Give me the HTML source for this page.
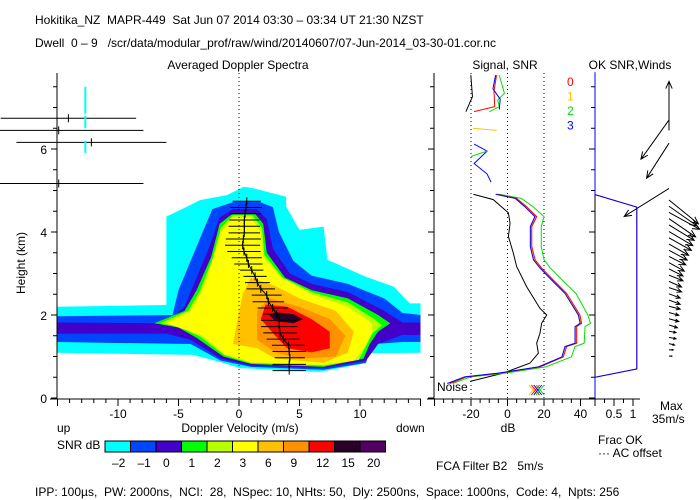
<!DOCTYPE html>
<html><head><meta charset="utf-8"><style>
body{margin:0;background:#fff}
svg{display:block;font-family:"Liberation Sans",sans-serif}
text{font-size:12px;white-space:pre}
</style></head><body>
<svg id="c" width="700" height="500" viewBox="0 0 700 500" xmlns="http://www.w3.org/2000/svg">
<text x="35" y="24" font-size="12.5">Hokitika_NZ  MAPR-449  Sat Jun 07 2014 03:30 – 03:34 UT 21:30 NZST</text>
<text x="35" y="47" font-size="11.5">Dwell  0 – 9   /scr/data/modular_prof/raw/wind/20140607/07-Jun-2014_03-30-01.cor.nc</text>
<text x="238" y="69" text-anchor="middle">Averaged Doppler Spectra</text>
<text x="505" y="69" text-anchor="middle">Signal, SNR</text>
<text x="630" y="69" text-anchor="middle">OK SNR,Winds</text>
<text x="25" y="263" text-anchor="middle" transform="rotate(-90 25 263)" font-size="11">Height (km)</text>
<text x="240" y="432" text-anchor="middle">Doppler Velocity (m/s)</text>
<text x="57" y="432">up</text>
<text x="396" y="432">down</text>
<text x="57" y="449">SNR dB</text>
<text x="508" y="432" text-anchor="middle">dB</text>
<text x="598" y="444">Frac OK</text>
<text x="598" y="457">··· AC offset</text>
<text x="660" y="410">Max</text>
<text x="652" y="423">35m/s</text>
<text x="436" y="470">FCA Filter B2   5m/s</text>
<text x="437" y="391" font-size="11">Noise</text>
<text x="35" y="496" font-size="11.5">IPP: 100µs,  PW: 2000ns,  NCI:  28,  NSpec: 10, NHts: 50,  Dly: 2500ns,  Space: 1000ns,  Code: 4,  Npts: 256</text>
<g id="g"></g>
</svg>
<script>
// ---- data ----
const levelLabels=["-2","-1","0","1","2","3","6","9","12","15","20"];
const levelColors=["#00ffff","#0046ff","#4200c8","#00ff00","#b8ff00","#ffff00","#ffc000","#ff9000","#ff0000","#2a0028","#520062"];
const contourNeg2=[[-15,2.2],[-6,2.24],[-6,4.37],[-4.3,4.61],[-3.2,4.77],[-1,4.89],[0.4,5.09],[1.2,5.05],[3.9,4.85],[3.9,4.61],[5,4.05],[7,4.13],[7.3,3.33],[10.5,2.92],[12.8,2.68],[14.1,2.28],[15,2.28],[15,1.09],[10.5,1.08],[10.5,0.84],[6.7,0.63],[0.1,0.72],[-1.6,0.87],[-3.8,1.04],[-15,1.09]];
const contourNeg1=[[-15,1.97],[-5.5,2.0],[-5,2.6],[-4,3.3],[-3,4.0],[-2.2,4.55],[-0.5,4.72],[1.5,4.75],[2.8,4.6],[3.3,4.0],[4.5,3.3],[6,2.95],[9,2.75],[12,2.4],[13.5,2.05],[15,2.0],[15,1.35],[13.5,1.35],[11,1.3],[10.5,0.85],[7,0.68],[1,0.75],[-1.5,0.9],[-4,1.3],[-15,1.35]];
const contour0=[[-15,1.82],[-6,1.8],[-4.5,2.2],[-3.5,2.9],[-2.5,3.6],[-1.6,4.35],[-0.5,4.55],[1.5,4.55],[2.3,4.3],[2.8,3.6],[4.2,3.0],[6,2.75],[9,2.55],[12,2.1],[13.5,1.82],[15,1.82],[15,1.52],[13.5,1.52],[11.5,1.3],[10.5,0.9],[7,0.72],[1,0.78],[-1.5,0.95],[-4,1.4],[-6,1.55],[-15,1.55]];
const contour1=[[-7,1.8],[-4.5,2.1],[-3.5,2.6],[-2.3,3.4],[-1.6,4.2],[-0.5,4.45],[1.3,4.45],[2,4.2],[2.3,3.5],[3.8,2.9],[6,2.6],[9,2.4],[11.5,2.0],[12.5,1.8],[11.5,1.6],[10.8,1.3],[10.3,0.95],[7,0.75],[1,0.82],[-1.3,1.0],[-3.5,1.45],[-5,1.7]];
const contour2=[[-6.5,1.8],[-4.2,2.1],[-3.2,2.6],[-2.2,3.35],[-1.5,4.1],[-0.5,4.4],[1.1,4.4],[1.9,4.1],[2.1,3.45],[3.6,2.9],[6,2.55],[9,2.3],[11.2,1.9],[11.8,1.75],[11,1.55],[10.5,1.25],[9.9,0.92],[7,0.78],[1,0.84],[-1.2,1.03],[-3.2,1.48],[-5,1.72]];
const contour3=[[-6,1.8],[-4,2.1],[-3,2.6],[-2.2,3.3],[-1.5,4.0],[-0.5,4.35],[1,4.35],[1.8,4.0],[2,3.4],[3.5,2.9],[6,2.5],[9,2.2],[11,1.8],[11,1.55],[10.3,1.2],[9.5,0.9],[7,0.8],[1,0.86],[-1.2,1.05],[-3,1.5],[-5,1.7]];
const contour6=[[-0.5,1.3],[0.3,2.5],[1,2.9],[3,2.7],[5,2.4],[8,2.1],[9.5,1.6],[9,1.1],[7,0.85],[3,0.95],[1.5,1.2]];
const contour9=[[1.5,1.4],[1.5,2.1],[2.5,2.4],[5,2.2],[7.5,1.9],[8.8,1.5],[8,1.0],[5,0.95],[3,1.1]];
const contour12=[[1.8,1.9],[2.2,2.25],[4,2.2],[6,1.9],[7.5,1.6],[7.5,1.2],[6,1.1],[4,1.2],[3,1.5]];
const contour15=[[2.5,2.0],[3,2.07],[4.5,2.02],[5.3,1.9],[4.5,1.8],[3,1.85]];
const momentHeights=[4.74,4.59,4.44,4.29,4.14,3.98,3.83,3.68,3.53,3.38,3.23,3.08,2.93,2.78,2.63,2.48,2.32,2.17,2.02,1.87,1.72,1.57,1.42,1.27,1.12,0.97,0.81,0.66];
const momentMeans=[0.64,0.58,0.5,0.44,0.44,0.44,0.36,0.3,0.41,0.64,0.78,1.05,1.33,1.52,1.8,2.29,2.43,2.78,3.11,3.33,3.33,3.39,3.66,4.1,4.15,4.2,4.15,4.15];
const momentWidths=[1.17,1.3,1.3,1.24,1.3,1.3,1.45,1.45,1.38,1.24,1.17,0.96,0.96,1.03,1.17,1.24,1.3,1.24,1.1,1.5,1.5,1.38,1.38,1.38,1.38,1.24,1.38,1.38];
const noiseHeights=[6.74,6.45,6.16,5.17];
const noiseMeans=[-14.1,-14.9,-12.2,-14.9];
const noiseWidths=[5.6,7,6.2,7];
const snrHeights=[4.91,4.81,4.61,4.37,4.13,3.65,3.33,3.13,2.84,2.52,2.0,1.80,1.72,1.32,1.24,0.99,0.75,0.6,0.51,0.35];
const snr0=[-5.6,5.0,10.5,16,13.3,13.3,15.1,18.7,25.1,32.4,39.7,40.6,37.9,37.9,32.4,30.6,17.8,-4.1,-22.4,-31.5];
const snr1=[-6.2,4.4,9.8,15.4,12.7,12.7,14.5,18.1,24.5,31.8,39.1,40.0,37.3,37.3,31.8,30.0,17.2,-4.7,-23,-32];
const snr2=[-4.5,7.5,14,20,18.5,18.5,20,23.5,30,37.5,44,45.5,42.5,42,37,35,21,-1,-20,-30];
const snr3=[-6.5,4.2,9.5,15,12.5,12.5,14.2,17.8,24.2,31.5,38.8,39.8,37,37,31.5,29.8,17,-5,-23.5,-33];
const sigHeights=[4.91,4.78,4.46,4.21,3.89,3.49,3.17,2.68,2.16,2.0,1.80,1.56,1.32,1.08,0.84,0.6,0.4];
const sigDb=[-18.7,-7.8,0.5,1.4,0.5,3.2,5.0,10.5,17.8,21.5,18.7,17.8,16,16.9,12.3,-2.3,-20.5];
const upperBlackH=[7.78,7.26,6.9];const upperBlackDb=[-20.1,-19.2,-22.8];
const upperRedH=[7.78,7.4,7.02,6.9];const upperRedDb=[-6,-7.4,-7,-18.3];
const upperGreenH=[7.78,7.34,7.18,7.02,6.9];const upperGreenDb=[-4.5,-1.7,-5.4,-4.5,-10];
const upperBlueH=[7.78,7.45,7.2,6.95];const upperBlueDb=[-6.5,-8,-4,-4.5];
const upperBlue2H=[6.12,5.95,5.65,5.4,5.2];const upperBlue2Db=[-18.3,-11.2,-18.3,-11.2,-9];
const upperGreen2H=[5.95,5.82];const upperGreen2Db=[-11.2,-20];
const upperYellowH=[6.5,6.45];const upperYellowDb=[-19,-6];
const fracHeights=[7.85,4.9,4.6,0.7,0.5,0];
const fracBlue=[0,0,1.1,1.1,0,0];
const fracRed=[0,0,1.1,1.1,0,0];
const windHeights=[6.7,6.45,6.14,5.05,4.77,4.62,4.47,4.32,4.17,4.01,3.86,3.71,3.56,3.41,3.26,3.11,2.96,2.81,2.66,2.51,2.36,2.21,2.06,1.91,1.76,1.61,1.46,1.31,1.16,1.01];
const windU=[-20,0,-16,-32,21,20,22,19,18,17,16,14,13,12,11,10,10,9,9,8,8,8,7,7,6,5,5,4,3,2];
const windV=[-28,35,-25,-20,-17,-14,-12,-13,-11,-10,-9,-8,-7,-6,-6,-5,-4,-4,-3,-3,-3,-2,-2,-2,-2,-1,-1,-1,0,0];
// ---- scales ----
const xV=v=>239+12.1*v, yH=h=>398-41.5*h, xDB=d=>507.5+1.825*d, xF=f=>595+38*f, W=1.4;
const NS="http://www.w3.org/2000/svg", G=document.getElementById('g');
function mk(t,a,p){const e=document.createElementNS(NS,t);for(const k in a)e.setAttribute(k,a[k]);(p||G).appendChild(e);return e;}
const contours=[contourNeg2,contourNeg1,contour0,contour1,contour2,contour3,contour6,contour9,contour12,contour15];
contours.forEach((c,i)=>{const e=mk('polygon',{points:c.map(p=>xV(p[0])+','+yH(p[1])).join(' '),fill:levelColors[i]});

});
let z=mk('line',{x1:xV(0),x2:xV(0),y1:73,y2:399,stroke:'#000','stroke-dasharray':'1,3'});


momentHeights.forEach((h,i)=>{const y=yH(h),m=momentMeans[i],w=momentWidths[i];
const a=mk('line',{x1:xV(m-w),x2:xV(m+w),y1:y,y2:y,stroke:'#000'});


const b=mk('line',{x1:xV(m),x2:xV(m),y1:y-4,y2:y+4,stroke:'#000'});

});
const ml=mk('polyline',{points:momentHeights.map((h,i)=>xV(momentMeans[i])+','+yH(h)).join(' '),fill:'none',stroke:'#000'});


noiseHeights.forEach((h,i)=>{const y=yH(h),m=noiseMeans[i],w=noiseWidths[i];
const a=mk('line',{x1:Math.max(0,xV(m-w)),x2:xV(m+w),y1:y,y2:y,stroke:'#000'});


const b=mk('line',{x1:xV(m),x2:xV(m),y1:y-4,y2:y+4,stroke:'#000'});

});
[[6.85,7.5],[6.5,6.8],[5.9,6.2]].forEach(r=>{const s=mk('line',{x1:xV(-12.7),x2:xV(-12.7),y1:yH(r[1]),y2:yH(r[0]),stroke:'#00ffff','stroke-width':2});

});
function axisY(x,name){const a=mk('line',{x1:x,x2:x,y1:73,y2:399,stroke:'#000'});


for(let h=0;h<=7.5;h+=0.5){mk('line',{x1:x-(h%2==0?6:4),x2:x,y1:yH(h),y2:yH(h),stroke:'#000'});}}
axisY(57,'spectra-y-axis');axisY(434,'signal-y-axis');axisY(595,'winds-y-axis');
[0,2,4,6].forEach(h=>{const t=mk('text',{x:47,y:yH(h)+5,'text-anchor':'end'});t.textContent=h;

});
let ax=mk('line',{x1:50,x2:421,y1:399,y2:399,stroke:'#000'});


for(let v=-15;v<=15;v++){mk('line',{x1:xV(v),x2:xV(v),y1:399,y2:v%5==0?406:403,stroke:'#000'});}
[-10,-5,0,5,10].forEach(v=>{const t=mk('text',{x:xV(v),y:418,'text-anchor':'middle'});t.textContent=v;

});
let ax2=mk('line',{x1:427,x2:588,y1:399,y2:399,stroke:'#000'});


for(let d=-40;d<=40;d+=5){mk('line',{x1:xDB(d),x2:xDB(d),y1:399,y2:d%20==0?406:403,stroke:'#000'});}
[-20,0,20,40].forEach(d=>{const t=mk('text',{x:xDB(d),y:418,'text-anchor':'middle'});t.textContent=d;


if(d<40){const l=mk('line',{x1:xDB(d),x2:xDB(d),y1:73,y2:399,stroke:'#000','stroke-dasharray':'1,3'});

}});
let ax3=mk('line',{x1:588,x2:640,y1:399,y2:399,stroke:'#000'});


for(let f=0;f<=1.01;f+=0.25){mk('line',{x1:xF(f),x2:xF(f),y1:399,y2:f%0.5==0?406:403,stroke:'#000'});}
[[0.5,'0.5'],[1,'1']].forEach(p=>{const t=mk('text',{x:xF(p[0]),y:418,'text-anchor':'middle'});t.textContent=p[1];

});
function line(hs,ds,col,name){const e=mk('polyline',{points:hs.map((h,i)=>xDB(ds[i])+','+yH(h)).join(' '),fill:'none',stroke:col});

}
line(sigHeights,sigDb,'#000','signal-power-line');
line(snrHeights,snr2,'#00e000','snr-line-2');line(snrHeights,snr1,'#ffc000','snr-line-1');
line(snrHeights,snr0,'#ff0000','snr-line-0');line(snrHeights,snr3,'#0000ff','snr-line-3');
line(upperBlackH,upperBlackDb,'#000','signal-upper-noise');line(upperGreenH,upperGreenDb,'#00e000','snr-upper-2');
line(upperRedH,upperRedDb,'#ff0000','snr-upper-0');line(upperBlueH,upperBlueDb,'#0000ff','snr-upper-3');
line(upperBlue2H,upperBlue2Db,'#0000ff','snr-upper-3b');line(upperGreen2H,upperGreen2Db,'#00e000','snr-upper-2b');
line(upperYellowH,upperYellowDb,'#ffc000','snr-upper-1');
['#ffc000','#ff0000','#0000ff','#00e000'].forEach((c,i)=>{const x=xDB(14+i*1.3),y=390;
const e=mk('path',{d:`M${x-4},${y-5}L${x+4},${y+5}M${x+4},${y-5}L${x-4},${y+5}`,stroke:c,fill:'none'});

});
['0','1','2','3'].forEach((s,i)=>{const t=mk('text',{x:567,y:86+i*14.5,style:'fill:'+['#ff0000','#ffc000','#00e000','#0000ff'][i]});t.textContent=s;

});
function fl(vals,col,name){const e=mk('polyline',{points:fracHeights.map((h,i)=>xF(vals[i])+','+yH(h)).join(' '),fill:'none',stroke:col});

}
fl(fracRed,'#ff0000','frac-ok-line-0');fl(fracBlue,'#0000ff','frac-ok-line-3');
windHeights.forEach((h,i)=>{const x0=669,y0=yH(h),x1=x0+windU[i]*W,y1=y0-windV[i]*W;
const L=Math.hypot(x1-x0,y1-y0)||1,ux=(x1-x0)/L,uy=(y1-y0)/L,hl=Math.min(8,L*0.4);
const d=`M${x0},${y0}L${x1},${y1}M${x1-hl*(ux*0.9-uy*0.4)},${y1-hl*(uy*0.9+ux*0.4)}L${x1},${y1}L${x1-hl*(ux*0.9+uy*0.4)},${y1-hl*(uy*0.9-ux*0.4)}`;
const e=mk('path',{d:d,stroke:'#000',fill:'none'});

});
levelColors.forEach((c,i)=>{const r=mk('rect',{x:105+i*25.5,y:441,width:25.5,height:11,fill:c,stroke:'#000'});


const t=mk('text',{x:112+i*25.5,y:467});t.textContent=levelLabels[i].replace('-','–');

});
</script>
</body></html>
